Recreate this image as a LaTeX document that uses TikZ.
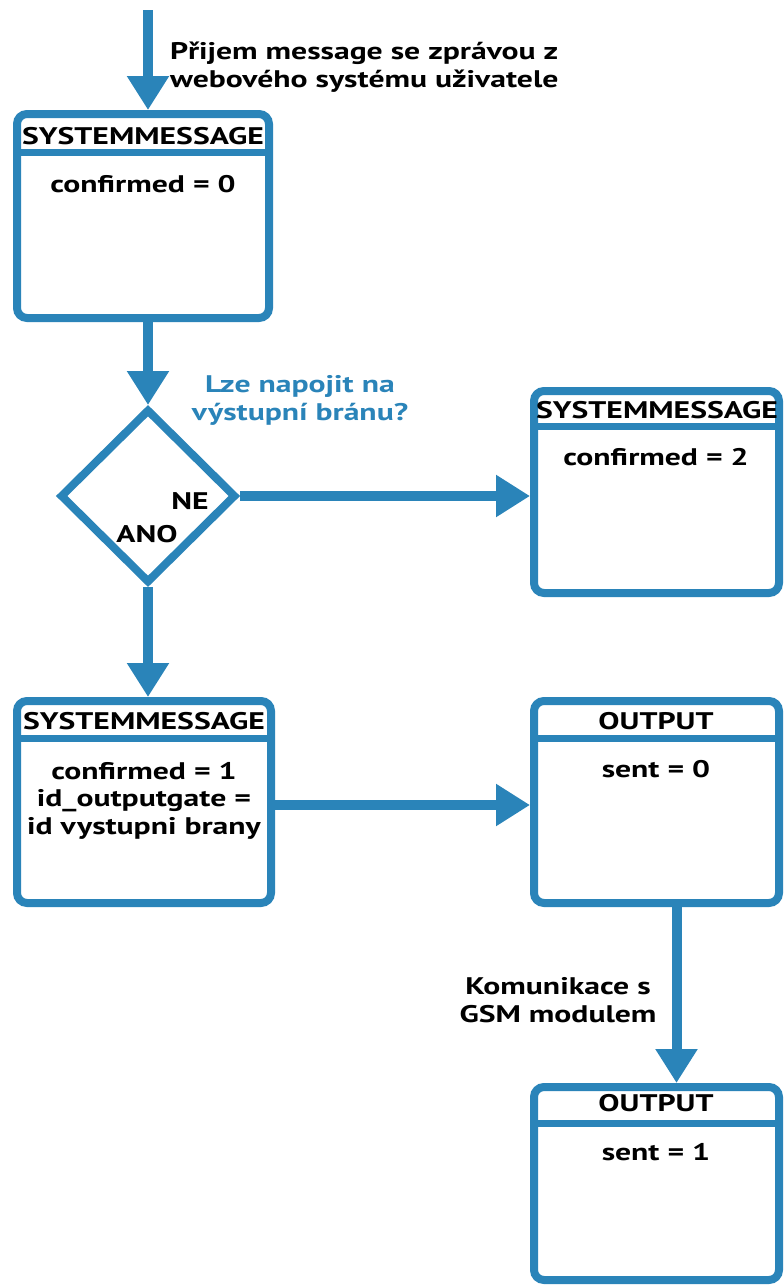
\documentclass[tikz,border=0pt]{standalone}
\usepackage{fontspec}
\setmainfont[FakeStretch=1.32]{PT Sans}
\usetikzlibrary{arrows.meta,shapes.geometric,calc}
\definecolor{flowblue}{RGB}{42,132,185}
\tikzset{
  box/.style={draw=flowblue, line width=8pt, rounded corners=10pt, fill=white,
    rectangle, inner sep=0pt},
  sep/.style={draw=flowblue, line width=7pt},
  title/.style={font=\bfseries\fontsize{24}{26}\selectfont, anchor=center, inner sep=0pt},
  body/.style={font=\bfseries\fontsize{24}{27.5}\selectfont, align=center, anchor=north, inner sep=0pt},
  label/.style={font=\bfseries\fontsize{24}{28}\selectfont, inner sep=0pt},
  flow/.style={draw=flowblue, line width=10pt,
    -{Triangle[width=40pt,length=34pt]}, shorten >=0pt},
  decision/.style={diamond, draw=flowblue, line width=8pt, fill=white,
    minimum width=176pt, minimum height=174pt, inner sep=0pt, aspect=1}
}
\begin{document}
\begin{tikzpicture}[x=1pt,y=-1pt]
  \useasboundingbox[fill=white] (0,0) rectangle (784,1285);

  % boxes: centre, size of the stroke path
  \node[box, minimum width=252pt, minimum height=204pt] (sm1) at (143,216) {};
  \node[box, minimum width=245pt, minimum height=202pt] (sm2) at (656.5,492) {};
  \node[box, minimum width=254pt, minimum height=202pt] (sm3) at (144,802) {};
  \node[box, minimum width=245pt, minimum height=202pt] (out1) at (656.5,802) {};
  \node[box, minimum width=245pt, minimum height=193pt] (out2) at (656.5,1183.5) {};

  \node[decision] (dec) at (148,496) {};

  % header separators
  \draw[sep] ($(sm1.north west)+(4,42)$) -- ($(sm1.north east)+(-4,42)$);
  \draw[sep] ($(sm2.north west)+(4,39)$) -- ($(sm2.north east)+(-4,39)$);
  \draw[sep] ($(sm3.north west)+(4,41)$) -- ($(sm3.north east)+(-4,41)$);
  \draw[sep] ($(out1.north west)+(4,41)$) -- ($(out1.north east)+(-4,41)$);
  \draw[sep] ($(out2.north west)+(4,40)$) -- ($(out2.north east)+(-4,40)$);

  % headers
  \node[title] (h1) at (143,136) {SYSTEMMESSAGE};
  \node[title] (h2) at (657,410) {SYSTEMMESSAGE};
  \node[title] (h3) at (144,721) {SYSTEMMESSAGE};
  \node[title] (h4) at (656,721) {OUTPUT};
  \node[title] (h5) at (656,1103) {OUTPUT};

  % contents
  \node[body] (b1) at (143,175) {confirmed = 0};
  \node[body] (b2) at (656,448) {confirmed = 2};
  \node[body] (b3) at (144,762) {confirmed = 1\\id\_outputgate =\\id vystupni brany};
  \node[body] (b4) at (656,760) {sent = 0};
  \node[body] (b5) at (656,1143) {sent = 1};

  % labels
  \node[label, anchor=west, align=left] (l1) at (170,67) {Přijem message se zprávou z\\webového systému uživatele};
  \node[label, text=flowblue, align=center] (l2) at (300,400) {Lze napojit na\\výstupní bránu?};
  \node[label] (ne) at (190,501) {NE};
  \node[label] (ano) at (147,534) {ANO};
  \node[label, align=center] (l3) at (558,1000) {Komunikace s\\GSM modulem};

  % connectors
  \coordinate (start) at (148,10);
  \draw[flow] (start) -- (start |- sm1.north);
  \draw[flow] (sm1.south -| dec.north) -- (dec.north);
  \draw[flow] (dec.east) -- (dec.east -| sm2.west);
  \draw[flow] (dec.south) -- (dec.south |- sm3.north);
  \coordinate (s3r) at ($(sm3.east)+(0,3)$);
  \draw[flow] (s3r) -- (s3r -| out1.west);
  \coordinate (o1b) at ($(out1.south)+(20,0)$);
  \draw[flow] (o1b) -- (o1b |- out2.north);
\end{tikzpicture}
\end{document}
